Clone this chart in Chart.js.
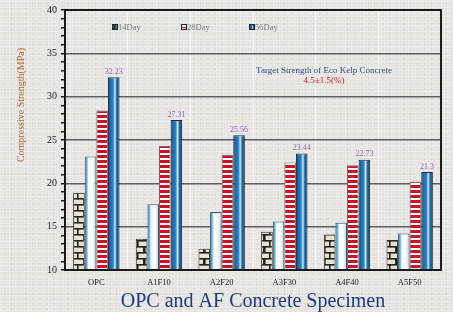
<!DOCTYPE html>
<html>
<head>
<meta charset="utf-8">
<script src="https://cdn.jsdelivr.net/npm/chart.js@4"></script>
<style>
    html, body {
        margin: 0;
        padding: 0;
        width: 453px;
        height: 312px;
        overflow: hidden;
        background-color: #e7e5e1;
        background-image:
            radial-gradient(circle at 30% 40%, rgba(255,255,255,0.35) 0.5px, transparent 1px),
            radial-gradient(circle at 70% 80%, rgba(150,145,140,0.18) 0.5px, transparent 1px);
        background-size: 3px 3px, 7px 5px;
    }
    #wrap {
        position: relative;
        width: 453px;
        height: 312px;
    }
</style>
</head>
<body>
<div id="wrap"><canvas id="strengthChart"></canvas></div>
<script>
// Chart data
const specimens = ['OPC', 'A1F10', 'A2F20', 'A3F30', 'A4F40', 'A5F50'];
const day7 = [18.9, 13.6, 12.45, 14.4, 14.1, 13.45];
const day14 = [23.1, 17.6, 16.7, 15.6, 15.45, 14.2];
const day28 = [28.4, 24.3, 23.3, 22.4, 22.1, 20.2];
const day56 = [32.23, 27.31, 25.56, 23.44, 22.73, 21.3];
const day56Labels = ['32.23', '27.31', '25.56', '23.44', '22.73', '21.3'];
const yTicks = [10, 15, 20, 25, 30, 35, 40];

const serif = '"Liberation Serif", "DejaVu Serif", serif';

// Brick pattern for the first bar of each group
function brickPattern() {
    const c = document.createElement('canvas');
    c.width = 12;
    c.height = 12;
    const g = c.getContext('2d');
    g.fillStyle = '#e9e2cf';
    g.fillRect(0, 0, 12, 12);
    g.fillStyle = '#222';
    g.fillRect(0, 0, 12, 1.6);
    g.fillRect(0, 6, 12, 1.6);
    g.fillRect(5, 0, 1.6, 6);
    g.fillRect(0, 6, 1.6, 6);
    g.fillRect(11, 6, 1, 6);
    return g.createPattern(c, 'repeat');
}

// Red / white horizontal stripes
function stripePattern() {
    const c = document.createElement('canvas');
    c.width = 4;
    c.height = 5;
    const g = c.getContext('2d');
    g.fillStyle = '#ffffff';
    g.fillRect(0, 0, 4, 5);
    g.fillStyle = '#cc1024';
    g.fillRect(0, 0, 4, 3);
    return g.createPattern(c, 'repeat');
}

// Horizontal gradient across a bar, uses the bar element position
function barGradient(stops, fallback) {
    return (ctx) => {
        const el = ctx.element;
        if (!el || el.x == null || isNaN(el.x) || !el.width) return fallback;
        const x0 = el.x - el.width / 2;
        const grad = ctx.chart.ctx.createLinearGradient(x0, 0, x0 + el.width, 0);
        stops.forEach(s => grad.addColorStop(s[0], s[1]));
        return grad;
    };
}

const lightStops = [[0, '#1d6fb0'], [0.18, '#6fb3dc'], [0.32, '#f4fafd'], [0.65, '#ffffff'], [0.85, '#d7e3ea'], [1, '#8fa4b4']];
const blueStops = [[0, '#0a3a68'], [0.2, '#1b6aae'], [0.45, '#2b84c6'], [0.6, '#d6ecf8'], [0.75, '#1f72b4'], [1, '#0a3a68']];

// Legend entries (7 day bars have no legend entry in the original)
const legendItems = [
    { label: '14Day', x: 112, kind: 'light' },
    { label: '28Day', x: 181, kind: 'red' },
    { label: '56Day', x: 249, kind: 'blue' }
];

const extrasPlugin = {
    id: 'extras',
    afterDatasetsDraw(chart) {
        const ctx = chart.ctx;
        const meta = chart.getDatasetMeta(3);
        ctx.save();
        // value labels above the 56 day bars
        ctx.font = '8px ' + serif;
        ctx.fillStyle = '#9a5fd2';
        ctx.textAlign = 'center';
        ctx.textBaseline = 'bottom';
        meta.data.forEach((bar, i) => {
            ctx.fillText(day56Labels[i], bar.x, bar.y - 1.5);
        });

        // target strength note
        ctx.font = '9px ' + serif;
        ctx.fillStyle = '#2c4a8c';
        ctx.textBaseline = 'middle';
        ctx.fillText('Target Strength of Eco Kelp Concrete', 324, 71);
        ctx.fillStyle = '#d8232a';
        ctx.fillText('4.5\u00b11.5(%)', 324, 81);

        // legend
        ctx.textAlign = 'left';
        ctx.font = '8.5px ' + serif;
        legendItems.forEach(item => {
            const y = 27;
            ctx.fillStyle = '#222';
            ctx.fillRect(item.x, y - 3, 6, 6);
            if (item.kind === 'light') {
                ctx.fillStyle = '#1d6fb0';
                ctx.fillRect(item.x + 1, y - 2, 4, 4);
                ctx.fillStyle = '#111';
                ctx.fillRect(item.x + 2, y - 2, 1, 4);
            } else if (item.kind === 'red') {
                ctx.fillStyle = '#f2f2f2';
                ctx.fillRect(item.x + 1, y - 2, 4, 4);
                ctx.fillStyle = '#cc1024';
                ctx.fillRect(item.x + 1, y, 4, 1);
            } else {
                ctx.fillStyle = '#1b6aae';
                ctx.fillRect(item.x + 1, y - 2, 4, 4);
                ctx.fillStyle = '#7fc0ea';
                ctx.fillRect(item.x + 3, y - 2, 1, 4);
            }
            ctx.fillStyle = '#7a7a7a';
            ctx.textBaseline = 'middle';
            ctx.fillText(item.label, item.x + 6, y + 0.5);
        });

        // y axis title
        ctx.translate(21, 105);
        ctx.rotate(-Math.PI / 2);
        ctx.textAlign = 'center';
        ctx.font = '10px ' + serif;
        ctx.fillStyle = '#b4622a';
        ctx.fillText('Compressive Strength(MPa)', 0, 0);
        ctx.restore();
    },
    afterDraw(chart) {
        // frame around the plot
        const a = chart.chartArea;
        const ctx = chart.ctx;
        ctx.save();
        ctx.strokeStyle = '#1a1a1a';
        ctx.lineWidth = 2;
        ctx.strokeRect(a.left, a.top, a.right - a.left, a.bottom - a.top);
        ctx.restore();
    }
};

window.onload = () => {
    const canvas = document.getElementById('strengthChart');
    canvas.width = 453;
    canvas.height = 312;

    const chart = new Chart(canvas.getContext('2d'), {
        type: 'bar',
        data: {
            labels: specimens,
            datasets: [
                {
                    label: '7Day',
                    data: day7,
                    backgroundColor: brickPattern(),
                    borderColor: '#2a2a2a',
                    borderWidth: 1
                },
                {
                    label: '14Day',
                    data: day14,
                    backgroundColor: barGradient(lightStops, '#e6f2f8'),
                    borderColor: '#3c5a70',
                    borderWidth: 1
                },
                {
                    label: '28Day',
                    data: day28,
                    backgroundColor: stripePattern(),
                    borderColor: '#6a6a6a',
                    borderWidth: 1
                },
                {
                    label: '56Day',
                    data: day56,
                    backgroundColor: barGradient(blueStops, '#1b6aae'),
                    borderColor: '#1c2a38',
                    borderWidth: 1
                }
            ]
        },
        options: {
            responsive: false,
            animation: false,
            events: [],
            layout: {
                padding: { left: 0, right: 12, top: 9, bottom: 0 }
            },
            datasets: {
                bar: {
                    categoryPercentage: 0.74,
                    barPercentage: 1.0
                }
            },
            plugins: {
                legend: { display: false },
                tooltip: { enabled: false }
            },
            scales: {
                x: {
                    afterFit: (scale) => { scale.height = 42; },
                    grid: {
                        offset: true,
                        color: 'rgba(255,255,255,0.55)',
                        lineWidth: 1,
                        drawTicks: false
                    },
                    border: { display: false },
                    ticks: {
                        color: '#222',
                        padding: 8,
                        font: { family: serif, size: 8.5 }
                    },
                    title: {
                        display: true,
                        text: 'OPC and AF Concrete Specimen',
                        color: '#1c3a8a',
                        font: { family: serif, size: 20, lineHeight: 1 },
                        padding: { top: 0, bottom: 0 }
                    }
                },
                y: {
                    min: 10,
                    max: 40,
                    afterFit: (scale) => { scale.width = 65; },
                    afterBuildTicks: (scale) => {
                        const t = [];
                        for (let v = 10; v <= 40; v++) t.push({ value: v });
                        scale.ticks = t;
                    },
                    grid: {
                        color: (ctx) => {
                            const v = ctx.tick ? ctx.tick.value : 0;
                            return (v % 5 === 0 && v > 10 && v < 40) ? '#5f5f5f' : 'transparent';
                        },
                        lineWidth: 1.5,
                        tickColor: '#1a1a1a',
                        tickLength: 4,
                        drawTicks: true
                    },
                    border: { display: false },
                    ticks: {
                        autoSkip: false,
                        color: '#222',
                        padding: 4,
                        font: { family: serif, size: 10 },
                        callback: (value) => yTicks.includes(value) ? String(value) : ''
                    }
                }
            }
        },
        plugins: [extrasPlugin]
    });
    // second pass so the gradients can use the bar positions
    chart.update();
};
</script>
</body>
</html>
